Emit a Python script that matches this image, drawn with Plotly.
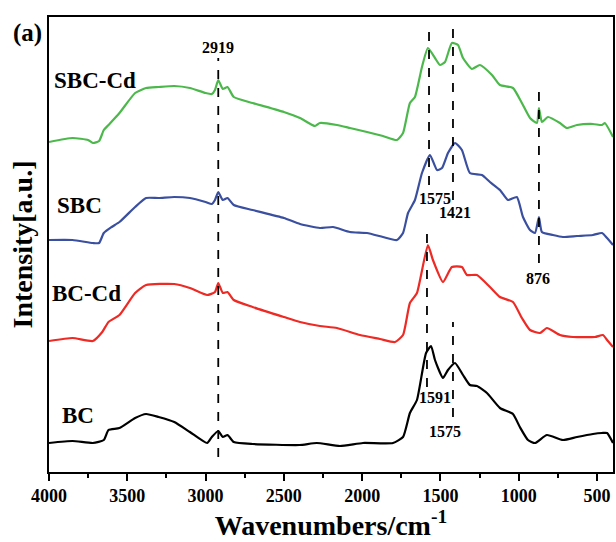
import plotly.graph_objects as go

# ---- data (arbitrary intensity units, offset-stacked) ----
bc_x = [4000, 3850, 3720, 3650, 3620, 3550, 3450, 3380, 3300, 3200, 3100, 2990, 2960, 2919, 2890, 2860, 2820,
        2700, 2400, 2290, 2142, 1995, 1803, 1739, 1695, 1650, 1592, 1560, 1535, 1484, 1452, 1407, 1356, 1312,
        1267, 1203, 1120, 1037, 993, 941, 896, 820, 718, 628, 526, 468, 436, 398]
bc_y = [29, 31, 29, 32, 42, 44, 54, 58, 55, 50, 40, 29, 35, 41, 35, 37, 30,
        28, 27, 29, 26, 29, 29, 35, 59, 72, 119, 126, 112, 94, 102, 109, 97, 87,
        86, 79, 64, 58, 45, 32, 29, 37, 32, 35, 38, 39, 39, 29]

bccd_x = [4000, 3850, 3720, 3660, 3620, 3550, 3450, 3380, 3200, 3100, 2990, 2940, 2919, 2890, 2860, 2820,
          2700, 2500, 2397, 2270, 2161, 2014, 1886, 1790, 1739, 1695, 1650, 1580, 1548, 1484, 1427, 1363,
          1331, 1267, 1184, 1120, 1037, 980, 928, 864, 820, 737, 654, 513, 462, 436, 398]
bccd_y = [131, 134, 131, 140, 150, 157, 179, 187, 188, 184, 177, 180, 189, 179, 180, 172,
          165, 155, 150, 146, 144, 137, 133, 130, 137, 169, 179, 227, 212, 190, 205, 205,
          197, 197, 185, 175, 170, 154, 142, 139, 144, 137, 135, 135, 137, 132, 125]

sbc_x = [4000, 3850, 3720, 3680, 3650, 3600, 3550, 3450, 3380, 3300, 3200, 3100, 3000, 2960, 2940, 2919,
         2890, 2860, 2820, 2700, 2500, 2397, 2270, 2186, 2078, 1969, 1867, 1778, 1739, 1707, 1663, 1618,
         1567, 1522, 1490, 1452, 1407, 1363, 1312, 1235, 1184, 1120, 1069, 1012, 973, 928, 896, 871, 852,
         782, 718, 628, 526, 468, 436, 398]
sbc_y = [232, 232, 229, 229, 239, 245, 250, 265, 274, 274, 275, 274, 270, 268, 272, 280,
         272, 274, 267, 262, 254, 248, 244, 245, 240, 239, 235, 232, 239, 259, 272, 299,
         317, 302, 304, 319, 329, 322, 299, 297, 290, 282, 272, 275, 255, 242, 239, 255, 240,
         237, 235, 236, 237, 239, 234, 227]

sbccd_x = [4000, 3850, 3750, 3720, 3680, 3650, 3620, 3550, 3450, 3380, 3300, 3200, 3100, 3000, 2960, 2940,
           2919, 2890, 2860, 2820, 2700, 2500, 2397, 2301, 2270, 2161, 2078, 1969, 1867, 1778, 1739, 1695,
           1663, 1618, 1580, 1535, 1503, 1471, 1427, 1388, 1356, 1299, 1248, 1171, 1120, 1037, 980, 928,
           884, 871, 852, 813, 737, 692, 628, 526, 468, 450, 398]
sbccd_y = [330, 334, 332, 329, 331, 342, 347, 359, 379, 384, 385, 386, 384, 379, 378, 382,
           392, 383, 385, 375, 369, 360, 354, 346, 349, 347, 344, 340, 336, 332, 339, 369,
           375, 405, 424, 414, 407, 410, 429, 427, 414, 403, 407, 397, 387, 384, 369, 354,
           349, 364, 350, 355, 349, 344, 347, 348, 347, 349, 335]

series_names = ["BC", "BC-Cd", "SBC", "SBC-Cd"]
series_colors = ["#000000", "#ee2a24", "#3a4fa0", "#4cb84c"]
series_x = [bc_x, bccd_x, sbc_x, sbccd_x]
series_y = [bc_y, bccd_y, sbc_y, sbccd_y]

# curve name labels: (wavenumber at left edge, intensity)
name_pos_x = [3930, 3994, 3962, 3981]
name_pos_y = [57, 179, 267, 392]

# peak markers: (x, y_top, y_bottom)
peak_x = [2919, 1573, 1420, 871, 1586, 1420]
peak_top = [414, 441, 449, 389, 243, 150]
peak_bot = [15, 287, 272, 209, 85, 55]
peak_labels = ["2919", "1575", "1421", "876", "1591", "1575"]
peak_label_x = [2919, 1535, 1410, 876, 1535, 1470]
peak_label_y = [425, 274, 260, 194, 75, 41]

tick_vals = [4000, 3500, 3000, 2500, 2000, 1500, 1000, 500]
tick_text = ["<b>%d</b>" % v for v in tick_vals]

fig = go.Figure()
for nm, col, xs, ys in zip(series_names, series_colors, series_x, series_y):
    fig.add_trace(go.Scatter(x=xs, y=ys, mode="lines", name=nm,
                             line=dict(color=col, width=2.2, shape="spline", smoothing=0.5),
                             showlegend=False))

for px, t, b in zip(peak_x, peak_top, peak_bot):
    fig.add_shape(type="line", x0=px, x1=px, y0=b, y1=t, xref="x", yref="y",
                  line=dict(color="black", width=1.8, dash="dash"))

font_serif = "Liberation Serif"
for lbl, lx, ly in zip(peak_labels, peak_label_x, peak_label_y):
    fig.add_annotation(x=lx, y=ly, text="<b>%s</b>" % lbl, showarrow=False,
                       font=dict(family=font_serif, size=16, color="black"))

for nm, lx, ly in zip(series_names, name_pos_x, name_pos_y):
    fig.add_annotation(x=lx, y=ly, text="<b>%s</b>" % nm, showarrow=False, xanchor="left",
                       font=dict(family=font_serif, size=23, color="black"))

fig.add_annotation(x=-0.067, y=0.965, xref="paper", yref="paper", xanchor="left", yanchor="middle",
                   text="<b>(a)</b>", showarrow=False,
                   font=dict(family=font_serif, size=25, color="black"))

fig.update_layout(
    width=616, height=542,
    margin=dict(l=49, r=3, t=17, b=70, autoexpand=False),
    paper_bgcolor="white", plot_bgcolor="white",
    font=dict(family=font_serif, color="black"),
    xaxis=dict(range=[4000, 398], tickvals=tick_vals, ticktext=tick_text, automargin=False,
               ticks="outside", ticklen=7, tickwidth=1.5, tickcolor="black",
               showline=True, linecolor="black", linewidth=1.5, mirror=True,
               showgrid=False, zeroline=False,
               tickfont=dict(family=font_serif, size=18, color="black"),
               minor=dict(tickvals=[3750, 3250, 2750, 2250, 1750, 1250, 750], ticks="outside",
                          ticklen=4, tickwidth=1.5, tickcolor="black"),
               title=dict(text="<b>Wavenumbers/cm<sup>-1</sup></b>", standoff=4,
                          font=dict(family=font_serif, size=28, color="black"))),
    yaxis=dict(range=[0, 455], showticklabels=False, ticks="", automargin=False,
               showline=True, linecolor="black", linewidth=1.5, mirror=True,
               showgrid=False, zeroline=False,
               title=dict(text="<b>Intensity[a.u.]</b>", standoff=6,
                          font=dict(family=font_serif, size=28, color="black"))),
)

fig.write_html("out.html", config={"displayModeBar": False},
               post_script="document.body.style.margin='0';document.body.style.overflow='hidden';")
